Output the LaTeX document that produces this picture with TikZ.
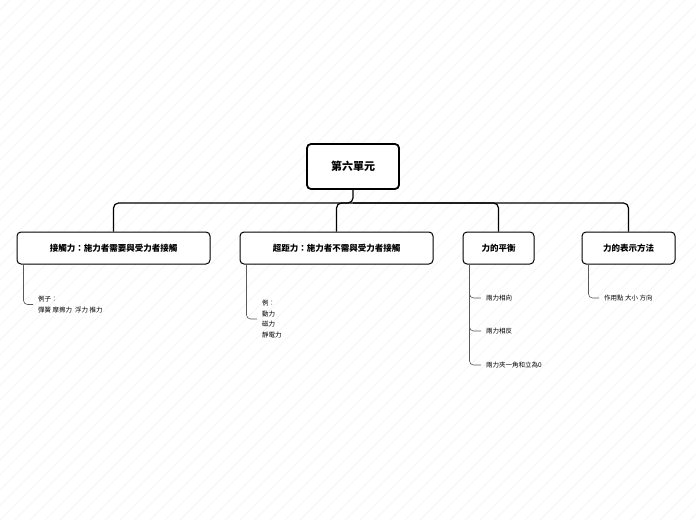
\documentclass[tikz,border=0pt]{standalone}
\usepackage{fontspec}
\setmainfont{Noto Sans CJK TC}
\begin{document}
\begin{tikzpicture}[x=1pt,y=-1pt,
  main/.style={draw,line width=1pt,rounded corners=4pt,fill=white,inner sep=0pt,font=\fontsize{8.5pt}{10pt}\selectfont\bfseries},
  root/.style={main,line width=1.8pt,font=\fontsize{11pt}{13pt}\selectfont\bfseries},
  conn/.style={line width=1.2pt,rounded corners=5pt},
  sub/.style={draw=gray!70!black,line width=0.6pt,rounded corners=4pt},
  lab/.style={anchor=west,align=left,inner sep=0pt,font=\fontsize{6.5pt}{10.5pt}\selectfont}]
\useasboundingbox (0,0) rectangle (696,520);
\begin{scope}
\clip (0,0) rectangle (696,520);
\foreach \i in {-540,-525,...,700} \draw[gray!12,line width=0.5pt] (\i,520) -- (\i+520,0);
\end{scope}
\node[root,minimum width=92pt,minimum height=45pt] (r) at (353,166.5) {第六單元};
\node[main,minimum width=193pt,minimum height=32pt] (a) at (113.5,248) {接觸力：施力者需要與受力者接觸};
\node[main,minimum width=193pt,minimum height=32pt] (b) at (336.5,248) {超距力：施力者不需與受力者接觸};
\node[main,minimum width=71pt,minimum height=32pt] (c) at (498.5,248) {力的平衡};
\node[main,minimum width=93pt,minimum height=32pt] (d) at (628.5,248) {力的表示方法};
\coordinate (j) at (353,203);
\draw[conn] (r.south) -- (j) -| (a.north);
\draw[conn] (j) -| (b.north);
\draw[conn] (j) -| (c.north);
\draw[conn] (j) -| (d.north);
\node[lab] (a1) at (38,304.5) {例子：\\彈簧 摩擦力\ \ 浮力 推力};
\node[lab] (b1) at (262,319) {例：\\動力\\磁力\\靜電力};
\node[lab] (c1) at (486,298) {兩力相向};
\node[lab] (c2) at (486,331) {兩力相反};
\node[lab] (c3) at (486,365) {兩力夾一角和立為0};
\node[lab] (d1) at (604,298) {作用點 大小 方向};
\draw[sub] (a.south west) ++(7,0) |- ([xshift=-5pt]a1.west);
\draw[sub] (b.south west) ++(7,0) |- ([xshift=-5pt]b1.west);
\draw[sub] (c.south west) ++(7,0) |- ([xshift=-5pt]c1.west);
\draw[sub] (c.south west) ++(7,0) |- ([xshift=-5pt]c2.west);
\draw[sub] (c.south west) ++(7,0) |- ([xshift=-5pt]c3.west);
\draw[sub] (d.south west) ++(7,0) |- ([xshift=-5pt]d1.west);
\end{tikzpicture}
\end{document}
